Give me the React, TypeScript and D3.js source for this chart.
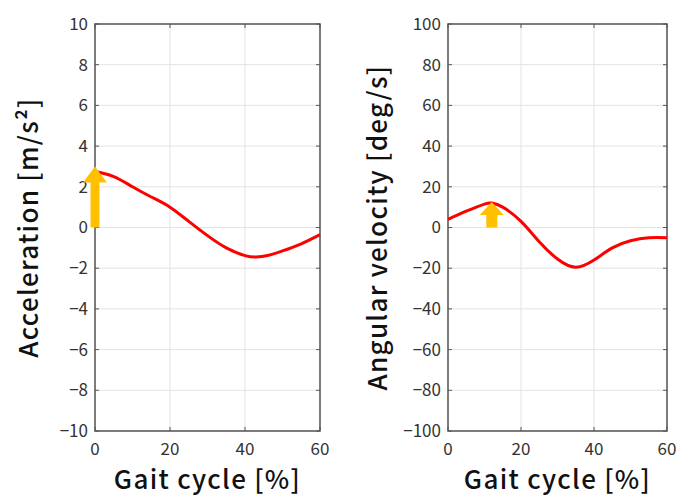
import React from "react";
import * as d3 from "d3";

const gaitX = [0, 5, 10, 15, 20, 25, 30, 35, 40, 43, 46, 50, 55, 60];
const accelY = [2.75, 2.5, 2.0, 1.5, 1.0, 0.3, -0.4, -1.0, -1.38, -1.45, -1.38, -1.15, -0.8, -0.35];

const gyroX = [0, 5, 10, 12, 15, 20, 25, 30, 35, 40, 45, 50, 55, 60];
const gyroY = [4, 8, 11.5, 12, 10, 3, -7, -15.5, -19.5, -16, -10, -6.5, -5, -5];

const xTicks = [0, 20, 40, 60];
const accelTicks = [-10, -8, -6, -4, -2, 0, 2, 4, 6, 8, 10];
const gyroTicks = [-100, -80, -60, -40, -20, 0, 20, 40, 60, 80, 100];

// arrows: [x, yStart, yEnd]
const accelArrow = [0, 0, 3];
const gyroArrow = [12, 0, 12.5];

const FONT = "'Noto Sans CJK JP', 'Noto Sans', sans-serif";

type PanelProps = {
  left: number; right: number; top: number; bottom: number;
  xs: number[]; ys: number[]; yTicks: number[]; yDomain: [number, number];
  yLabel: string; labelX: number; arrow: number[]; shaftW: number; headW: number; headH: number;
};

function Panel(p: PanelProps) {
  const x = d3.scaleLinear().domain([0, 60]).range([p.left, p.right]);
  const y = d3.scaleLinear().domain(p.yDomain).range([p.bottom, p.top]);
  const line = d3.line<number>().x((_, i) => x(p.xs[i])).y((d) => y(d)).curve(d3.curveNatural);
  const ax = x(p.arrow[0]);
  const y0 = y(p.arrow[1]);
  const y1 = y(p.arrow[2]);
  const arrowPath = `M${ax - p.shaftW / 2},${y0} L${ax - p.shaftW / 2},${y1 + p.headH} L${ax - p.headW / 2},${y1 + p.headH} L${ax},${y1} L${ax + p.headW / 2},${y1 + p.headH} L${ax + p.shaftW / 2},${y1 + p.headH} L${ax + p.shaftW / 2},${y0} Z`;
  const midY = (p.top + p.bottom) / 2;
  return (
    <g>
      <rect x={p.left} y={p.top} width={p.right - p.left} height={p.bottom - p.top} fill="#fff" />
      {xTicks.map((t) => (
        <line key={"gx" + t} x1={x(t)} x2={x(t)} y1={p.top} y2={p.bottom} stroke="#e3e3e3" strokeWidth={1} />
      ))}
      {p.yTicks.map((t) => (
        <line key={"gy" + t} x1={p.left} x2={p.right} y1={y(t)} y2={y(t)} stroke="#e3e3e3" strokeWidth={1} />
      ))}
      {xTicks.map((t) => (
        <g key={"tx" + t}>
          <line x1={x(t)} x2={x(t)} y1={p.bottom} y2={p.bottom - 4} stroke="#555" />
          <line x1={x(t)} x2={x(t)} y1={p.top} y2={p.top + 4} stroke="#555" />
          <text x={x(t)} y={p.bottom + 24} textAnchor="middle" fontSize={17} fill="#333" fontFamily={FONT}>{t}</text>
        </g>
      ))}
      {p.yTicks.map((t) => (
        <g key={"ty" + t}>
          <line x1={p.left} x2={p.left + 4} y1={y(t)} y2={y(t)} stroke="#555" />
          <line x1={p.right} x2={p.right - 4} y1={y(t)} y2={y(t)} stroke="#555" />
          <text x={p.left - 7} y={y(t)} dy="0.35em" textAnchor="end" fontSize={17} fill="#333" fontFamily={FONT}>
            {t < 0 ? "\u2212" + Math.abs(t) : String(t)}
          </text>
        </g>
      ))}
      <rect x={p.left} y={p.top} width={p.right - p.left} height={p.bottom - p.top} fill="none" stroke="#555" strokeWidth={1.5} />
      <path d={line(p.ys) || ""} fill="none" stroke="#ff0000" strokeWidth={3} />
      <path d={arrowPath} fill="#ffc000" />
      <text x={(p.left + p.right) / 2} y={p.bottom + 58} textAnchor="middle" fontSize={26} letterSpacing={1.3} fontWeight={500} fill="#111" fontFamily={FONT}>Gait cycle [%]</text>
      <text transform={`translate(${p.labelX},${midY}) rotate(-90)`} textAnchor="middle" dy="0.35em" fontSize={26} letterSpacing={1.3} fontWeight={500} fill="#111" fontFamily={FONT}>{p.yLabel}</text>
    </g>
  );
}

export default function App() {
  return (
    <svg width={678} height={496} style={{ display: "block", position: "absolute", left: 0, top: 0 }}>
      <rect width={678} height={496} fill="#fff" />
      <Panel left={95} right={320} top={24} bottom={431} xs={gaitX} ys={accelY} yTicks={accelTicks} yDomain={[-10, 10]}
        yLabel="Acceleration [m/s²]" labelX={29} arrow={accelArrow} shaftW={9} headW={24} headH={16} />
      <Panel left={448} right={667} top={24} bottom={431} xs={gyroX} ys={gyroY} yTicks={gyroTicks} yDomain={[-100, 100]}
        yLabel="Angular velocity [deg/s]" labelX={378} arrow={gyroArrow} shaftW={11} headW={24} headH={13} />
    </svg>
  );
}
